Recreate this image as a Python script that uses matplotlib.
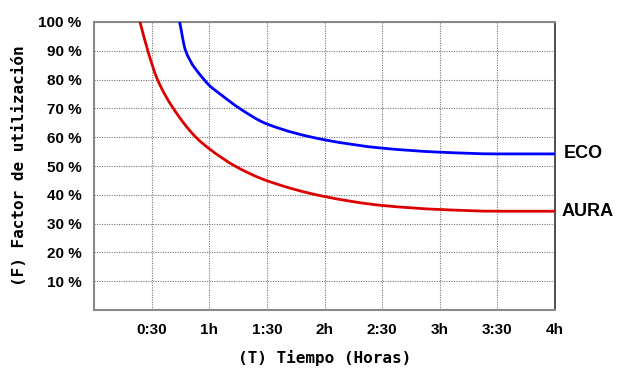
import matplotlib.pyplot as plt
import numpy as np
from matplotlib.path import Path
from matplotlib.patches import PathPatch

# values (hours, %)
aura_t = [0.399, 0.467, 0.551, 0.688, 0.884, 1.0, 1.223, 1.5, 2.0, 2.5, 3.0, 3.5, 4.0]
aura_f = [100, 90, 80, 70, 60, 56.0, 50, 44.9, 39.4, 36.3, 34.9, 34.3, 34.3]

eco_t = [0.743, 0.795, 0.955, 1.0, 1.107, 1.252, 1.5, 2.0, 2.5, 3.0, 3.5, 4.0]
eco_f = [100, 90, 80, 78.0, 74.6, 70.3, 64.6, 59.1, 56.2, 54.8, 54.2, 54.2]

x_ticks = [0.5, 1, 1.5, 2, 2.5, 3, 3.5, 4]
x_labels = ["0:30", "1h", "1:30", "2h", "2:30", "3h", "3:30", "4h"]
y_ticks = [10, 20, 30, 40, 50, 60, 70, 80, 90, 100]
y_labels = [f"{v} %" for v in y_ticks]

tick_font = dict(family=["Liberation Sans", "DejaVu Sans"], weight="bold", size=11)
mono_font = dict(family=["DejaVu Sans Mono"], weight="bold", size=11.5)
name_font = dict(family=["Liberation Sans", "DejaVu Sans"], weight="bold", size=13)


def smooth_path(xs, ys):
    # monotone (fritsch-carlson) cubic bezier path through the points
    x = np.asarray(xs, float)
    y = np.asarray(ys, float)
    h = np.diff(x)
    d = np.diff(y) / h
    m = np.zeros_like(y)
    m[0], m[-1] = d[0], d[-1]
    for k in range(1, len(x) - 1):
        if d[k - 1] * d[k] > 0:
            w1 = 2 * h[k] + h[k - 1]
            w2 = h[k] + 2 * h[k - 1]
            m[k] = (w1 + w2) / (w1 / d[k - 1] + w2 / d[k])
    verts = [(x[0], y[0])]
    codes = [Path.MOVETO]
    for k in range(len(x) - 1):
        verts += [(x[k] + h[k] / 3, y[k] + m[k] * h[k] / 3),
                  (x[k + 1] - h[k] / 3, y[k + 1] - m[k + 1] * h[k] / 3),
                  (x[k + 1], y[k + 1])]
        codes += [Path.CURVE4] * 3
    return Path(verts, codes)


fig = plt.figure(figsize=(6.2, 3.79), dpi=100)
ax = fig.add_axes([0.1516, 0.182, 0.7436, 0.76])

for xs, ys, col in [(aura_t, aura_f, "#dd0000"), (eco_t, eco_f, "#0000ff")]:
    ax.add_patch(PathPatch(smooth_path(xs, ys), fill=False, edgecolor=col,
                           linewidth=2, capstyle="round", zorder=3))

ax.set_xlim(0, 4)
ax.set_ylim(0, 100)

ax.set_xticks(x_ticks)
ax.set_xticklabels(x_labels, fontdict=tick_font)
ax.set_yticks(y_ticks)
ax.set_yticklabels(y_labels, fontdict=tick_font)
ax.tick_params(axis="both", length=0)
ax.tick_params(axis="x", pad=9)
ax.tick_params(axis="y", pad=9)

# dotted grid
ax.grid(True, color="#777777", linestyle=(0, (1, 1.2)), linewidth=0.8)

for side in ["left", "bottom", "top"]:
    ax.spines[side].set_color("#888888")
    ax.spines[side].set_linewidth(1.5)
ax.spines["right"].set_color("#333333")
ax.spines["right"].set_linewidth(1.2)

ax.set_xlabel("(T) Tiempo (Horas)", fontdict=mono_font, labelpad=10)
ax.set_ylabel("(F) Factor de utilización", fontdict=mono_font, labelpad=8)

# series names at the right end of each curve
ax.annotate("ECO", xy=(4, eco_f[-1]), xytext=(6, 0), textcoords="offset points",
            va="center", ha="left", annotation_clip=False, **name_font)
ax.annotate("AURA", xy=(4, aura_f[-1]), xytext=(5, 0), textcoords="offset points",
            va="center", ha="left", annotation_clip=False, **name_font)

plt.savefig("out.png", dpi=100)
